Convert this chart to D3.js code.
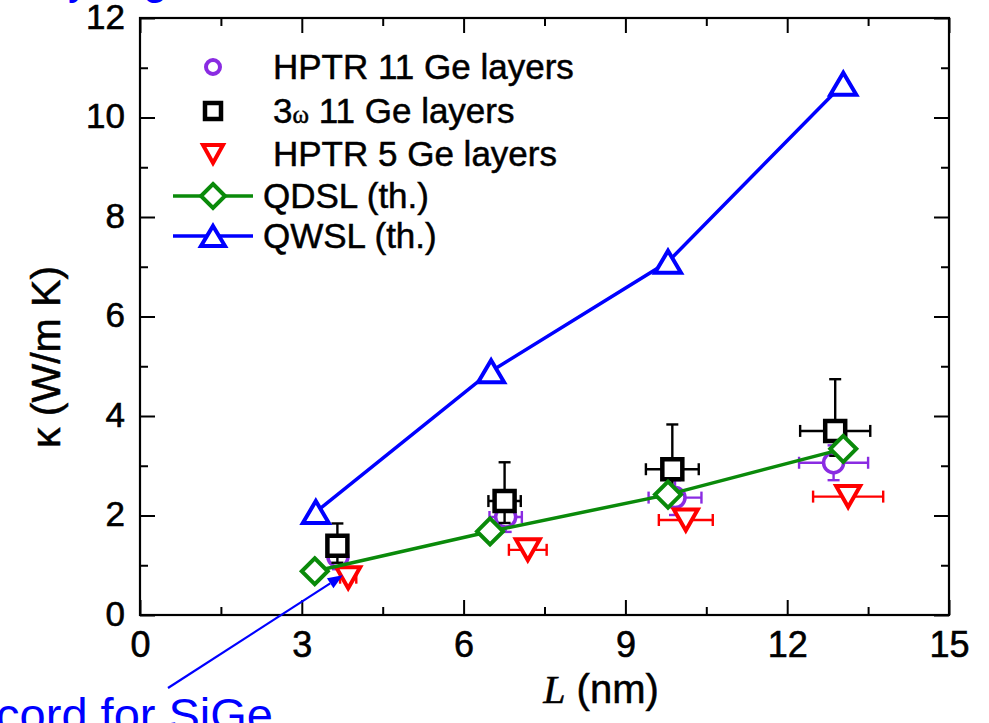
<!DOCTYPE html>
<html>
<head>
<meta charset="utf-8">
<script src="https://cdn.jsdelivr.net/npm/d3@7"></script>
<style>
  html, body { margin: 0; padding: 0; background: #fff; }
  svg { display: block; }
  text { font-family: "Liberation Sans", Arial, sans-serif; }
</style>
</head>
<body>
<svg id="chart" width="989" height="723"></svg>
<script>
// ---------------- data ----------------
const xTicks = [0, 3, 6, 9, 12, 15];
const xMinor = [1.5, 4.5, 7.5, 10.5, 13.5];
const yTicks = [0, 2, 4, 6, 8, 10, 12];
const yMinor = [1, 3, 5, 7, 9, 11];

// QWSL (th.)
const qwslL = [3.26, 6.51, 9.79, 13.04];
const qwslK = [2.07, 4.90, 7.10, 10.68];
// QDSL (th.)
const qdslL = [3.24, 6.49, 9.79, 13.04];
const qdslK = [0.88, 1.68, 2.42, 3.34];
// 3ω 11 Ge layers
const sqL    = [3.66, 6.76, 9.87, 12.89];
const sqK    = [1.39, 2.29, 2.93, 3.70];
const sqXErr = [0.00, 0.30, 0.49, 0.65];
const sqKLo  = [1.05, 1.85, 2.45, 3.20];
const sqKHi  = [1.84, 3.07, 3.83, 4.74];
// HPTR 11 Ge layers
const ciL    = [3.67, 6.78, 9.92, 12.86];
const ciK    = [1.17, 1.97, 2.36, 3.06];
const ciXErr = [0.00, 0.30, 0.49, 0.64];
const ciKErr = [0.25, 0.30, 0.35, 0.35];
// HPTR 5 Ge layers
const trL    = [3.86, 7.19, 10.12, 13.13];
const trK    = [0.75, 1.31, 1.91, 2.38];
const trXErr = [0.15, 0.35, 0.50, 0.65];

const legendLabels = ["HPTR 11 Ge layers", "3ω 11 Ge layers", "HPTR 5 Ge layers", "QDSL (th.)", "QWSL (th.)"];
const xLabel = "(nm)";
const yLabel = "κ (W/m K)";
const noteText = "Record for SiGe";
const noteTip = [3.76, 0.80];

// ---------------- layout ----------------
const C = { purple: "#8a2be2", black: "#000", red: "#ff0000", green: "#0a8a0a", blue: "#0000ff" };
const svg = d3.select("#chart");
const x = d3.scaleLinear().domain([0, 15]).range([140, 949]);
const y = d3.scaleLinear().domain([0, 12]).range([615, 18]);
const X0 = 140, X1 = 949, Y0 = 615, Y1 = 18;

// top blue partial text (cut off by the picture edge, as in the source)
svg.append("text").attr("x", 90).attr("y", -6).attr("text-anchor", "end")
  .attr("font-size", 44).attr("fill", C.blue).text("Thermal conductivity reduced by");
svg.append("text").attr("x", 143).attr("y", -6)
  .attr("font-size", 44).attr("fill", C.blue).text("growth");

// ---------------- axes ----------------
function styleAxis(g) {
  g.select(".domain").remove();
  g.selectAll(".tick line").attr("stroke", "#000").attr("stroke-width", 2);
}
const MAJ = 15, MIN = 8;
svg.append("g").attr("transform", `translate(0,${Y0})`)
  .call(d3.axisBottom(x).tickValues(xTicks).tickSize(-MAJ).tickFormat(d3.format("d")))
  .call(styleAxis)
  .call(g => g.selectAll("text").attr("y", 42).attr("dy", 0).attr("font-size", 36)
     .attr("fill", "#000").attr("stroke", "#000").attr("stroke-width", 0.6)
     .style("font-family", "'Liberation Sans', Arial, sans-serif"));
svg.append("g").attr("transform", `translate(0,${Y0})`)
  .call(d3.axisBottom(x).tickValues(xMinor).tickSize(-MIN).tickFormat(""))
  .call(styleAxis);
svg.append("g").attr("transform", `translate(0,${Y1})`)
  .call(d3.axisTop(x).tickValues(xTicks).tickSize(-MAJ).tickFormat(""))
  .call(styleAxis);
svg.append("g").attr("transform", `translate(0,${Y1})`)
  .call(d3.axisTop(x).tickValues(xMinor).tickSize(-MIN).tickFormat(""))
  .call(styleAxis);

svg.append("g").attr("transform", `translate(${X0},0)`)
  .call(d3.axisLeft(y).tickValues(yTicks).tickSize(-MAJ).tickFormat(d3.format("d")))
  .call(styleAxis)
  .call(g => g.selectAll("text").attr("x", -15).attr("dy", 10).attr("font-size", 35)
     .attr("fill", "#000").attr("stroke", "#000").attr("stroke-width", 0.6)
     .style("font-family", "'Liberation Sans', Arial, sans-serif"));
svg.append("g").attr("transform", `translate(${X0},0)`)
  .call(d3.axisLeft(y).tickValues(yMinor).tickSize(-MIN).tickFormat(""))
  .call(styleAxis);
svg.append("g").attr("transform", `translate(${X1},0)`)
  .call(d3.axisRight(y).tickValues(yTicks).tickSize(-MAJ).tickFormat(""))
  .call(styleAxis);
svg.append("g").attr("transform", `translate(${X1},0)`)
  .call(d3.axisRight(y).tickValues(yMinor).tickSize(-MIN).tickFormat(""))
  .call(styleAxis);

svg.append("rect").attr("x", X0).attr("y", Y1).attr("width", X1 - X0).attr("height", Y0 - Y1)
  .attr("fill", "none").attr("stroke", "#000").attr("stroke-width", 2.2);

// axis titles
const xl = svg.append("text").attr("x", 601).attr("y", 703).attr("text-anchor", "middle")
  .attr("font-size", 40).attr("fill", "#000").attr("stroke", "#000").attr("stroke-width", 0.5);
xl.append("tspan").style("font-family", "'Liberation Serif', 'Times New Roman', serif")
  .attr("font-style", "italic").text("L");
xl.append("tspan").text(" " + xLabel);
svg.append("text").attr("transform", "translate(60,357) rotate(-90)").attr("text-anchor", "middle")
  .attr("font-size", 41).attr("fill", "#000").attr("stroke", "#000").attr("stroke-width", 0.5).text(yLabel);

// ---------------- marker shapes ----------------
const shape = {
  circle: (r) => `M${r},0A${r},${r} 0 1,1 ${-r},0A${r},${r} 0 1,1 ${r},0Z`,
  square: (s) => `M${-s/2},${-s/2}H${s/2}V${s/2}H${-s/2}Z`,
  diamond: (s) => `M0,${-s}L${s},0L0,${s}L${-s},0Z`,
  triUp: (w, h) => `M0,${-h/2}L${w/2},${h/2}L${-w/2},${h/2}Z`,
  triDown: (w, h) => `M0,${h/2}L${w/2},${-h/2}L${-w/2},${-h/2}Z`
};
function markers(g, xs, ys, d, color, sw) {
  g.selectAll(null).data(xs.map((v, i) => [v, ys[i]])).enter().append("path")
    .attr("transform", p => `translate(${x(p[0])},${y(p[1])})`)
    .attr("d", d).attr("fill", "#fff").attr("stroke", color).attr("stroke-width", sw)
    .attr("stroke-linejoin", "miter");
}
function errX(g, xs, ys, errs, color) {
  xs.forEach((v, i) => {
    if (!errs[i]) return;
    const yy = y(ys[i]), a = x(v - errs[i]), b = x(v + errs[i]);
    g.append("line").attr("x1", a).attr("x2", b).attr("y1", yy).attr("y2", yy).attr("stroke", color).attr("stroke-width", 2.4);
    [a, b].forEach(xx => g.append("line").attr("x1", xx).attr("x2", xx).attr("y1", yy - 6).attr("y2", yy + 6).attr("stroke", color).attr("stroke-width", 2.4));
  });
}
function errY(g, xs, lo, hi, color) {
  xs.forEach((v, i) => {
    const xx = x(v), a = y(lo[i]), b = y(hi[i]);
    g.append("line").attr("x1", xx).attr("x2", xx).attr("y1", a).attr("y2", b).attr("stroke", color).attr("stroke-width", 2.4);
    [a, b].forEach(yy => g.append("line").attr("x1", xx - 6).attr("x2", xx + 6).attr("y1", yy).attr("y2", yy).attr("stroke", color).attr("stroke-width", 2.4));
  });
}

const plot = svg.append("g");
// HPTR 11 (purple circles)
errX(plot, ciL, ciK, ciXErr, C.purple);
errY(plot, ciL, ciK.map((v, i) => v - ciKErr[i]), ciK.map((v, i) => v + ciKErr[i]), C.purple);
markers(plot, ciL, ciK, shape.circle(10), C.purple, 3.5);
// 3ω (black squares)
errX(plot, sqL, sqK, sqXErr, C.black);
errY(plot, sqL, sqKLo, sqKHi, C.black);
markers(plot, sqL, sqK, shape.square(20), C.black, 4.5);
// HPTR 5 (red down triangles)
errX(plot, trL, trK, trXErr, C.red);
markers(plot, trL, trK, shape.triDown(24, 21), C.red, 4);

// QDSL line + diamonds
const line = d3.line().x(p => x(p[0])).y(p => y(p[1]));
plot.append("path").attr("d", line(qdslL.map((v, i) => [v, qdslK[i]])))
  .attr("fill", "none").attr("stroke", C.green).attr("stroke-width", 3.5);
markers(plot, qdslL, qdslK, shape.diamond(13), C.green, 4);
// QWSL line + triangles
plot.append("path").attr("d", line(qwslL.map((v, i) => [v, qwslK[i]])))
  .attr("fill", "none").attr("stroke", C.blue).attr("stroke-width", 3.5);
markers(plot, qwslL, qwslK, shape.triUp(26, 22), C.blue, 4);

// ---------------- legend ----------------
const lg = svg.append("g");
const LX = 213, rows = [67, 111, 154, 196, 236];
lg.append("path").attr("transform", `translate(${LX},${rows[0]})`).attr("d", shape.circle(7))
  .attr("fill", "#fff").attr("stroke", C.purple).attr("stroke-width", 4);
lg.append("path").attr("transform", `translate(${LX},${rows[1]})`).attr("d", shape.square(16))
  .attr("fill", "#fff").attr("stroke", C.black).attr("stroke-width", 4.5);
lg.append("path").attr("transform", `translate(${LX},${rows[2]})`).attr("d", shape.triDown(20, 18))
  .attr("fill", "#fff").attr("stroke", C.red).attr("stroke-width", 4);
lg.append("line").attr("x1", 173).attr("x2", 253).attr("y1", rows[3]).attr("y2", rows[3]).attr("stroke", C.green).attr("stroke-width", 3.5);
lg.append("path").attr("transform", `translate(${LX},${rows[3]})`).attr("d", shape.diamond(12))
  .attr("fill", "#fff").attr("stroke", C.green).attr("stroke-width", 4);
lg.append("line").attr("x1", 173).attr("x2", 253).attr("y1", rows[4]).attr("y2", rows[4]).attr("stroke", C.blue).attr("stroke-width", 3.5);
lg.append("path").attr("transform", `translate(${LX},${rows[4]})`).attr("d", shape.triUp(24, 20))
  .attr("fill", "#fff").attr("stroke", C.blue).attr("stroke-width", 4);

legendLabels.forEach((t, i) => {
  const tx = i < 3 ? 273 : 263;
  const el = lg.append("text").attr("x", tx).attr("y", rows[i] + 12).attr("font-size", 35)
    .attr("fill", "#000").attr("stroke", "#000").attr("stroke-width", 0.5);
  if (t.indexOf("ω") >= 0) {
    const parts = t.split("ω");
    el.append("tspan").text(parts[0]);
    el.append("tspan").attr("font-size", 25).style("font-family", "'Liberation Serif', serif").text("ω");
    el.append("tspan").text(parts[1]);
  } else {
    el.text(t);
  }
});

// ---------------- annotation ----------------
const tipX = x(noteTip[0]), tipY = y(noteTip[1]);
const tailX = 168, tailY = 688;
const ang = Math.atan2(tipY - tailY, tipX - tailX);
const hl = 15, hw = 6;
const bx = tipX - hl * Math.cos(ang), by = tipY - hl * Math.sin(ang);
svg.append("line").attr("x1", tailX).attr("y1", tailY).attr("x2", bx).attr("y2", by)
  .attr("stroke", C.blue).attr("stroke-width", 2.2);
svg.append("path").attr("d",
  `M${tipX},${tipY}L${bx + hw * Math.sin(ang)},${by - hw * Math.cos(ang)}L${bx - hw * Math.sin(ang)},${by + hw * Math.cos(ang)}Z`)
  .attr("fill", C.blue);
svg.append("text").attr("x", 273).attr("y", 731).attr("text-anchor", "end")
  .attr("font-size", 47).attr("fill", C.blue).text(noteText);
</script>
</body>
</html>
